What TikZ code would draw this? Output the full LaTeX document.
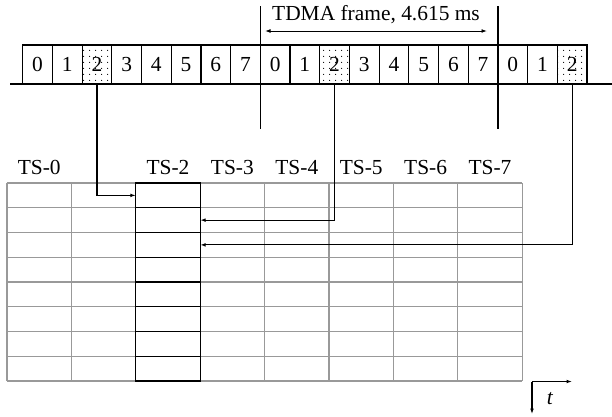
\documentclass[tikz,border=0pt]{standalone}
\usepackage{fontspec}
\setmainfont{Liberation Serif}
\usepackage{tikz}
\usetikzlibrary{arrows.meta}
\usetikzlibrary{patterns.meta}
\usetikzlibrary{math}
\tikzset{>={Latex[length=5.5bp,width=3.8bp]}}
\tikzset{
    slotbox/.style={draw=black, line width=1.2bp, minimum width=29.7bp, minimum height=39bp, inner sep=0pt, outer sep=0pt},
    dotslot/.style={slotbox, pattern={Dots[distance=6bp, radius=0.6bp]}},
    cellbox/.style={minimum width=64.4bp, minimum height=24.75bp, inner sep=0pt, outer sep=0pt},
    tsbox/.style={cellbox, draw=black, line width=1.3bp},
    gridline/.style={draw=gridgray, line width=1.3bp},
}

\begin{document}
\begin{tikzpicture}[x=1bp, y=-1bp, font=\fontsize{21.5}{25}\selectfont] % TDMA slots into TS columns
	\tikzmath{\w = 29.7; \xs = 22.7; \cw = 64.4; \rh = 24.75; \xg = 7; \yg = 183;}
	\colorlet{gridgray}{black!40}
	\useasboundingbox (0,0) rectangle (612,416);
	\draw[line width=1.2bp] (10,84) -- (612,84);
	\foreach \i in {0,...,18} {
		\pgfmathtruncatemacro{\d}{mod(\i,8)}
		\ifnum\d=2
			\node[dotslot] (s\i) at (\xs+\w*\i+\w/2, 64.5) {\d};
		\else
			\node[slotbox] (s\i) at (\xs+\w*\i+\w/2, 64.5) {\d};
		\fi
	}
	\coordinate (m1a) at ([yshift=39bp]s8.north west);
	\coordinate (m1b) at ([yshift=-45bp]s8.south west);
	\coordinate (m2a) at ([yshift=39bp]s16.north west);
	\coordinate (m2b) at ([yshift=-45bp]s16.south west);
	\draw[line width=1.3bp] (m1a) -- (m1b);
	\draw[line width=1.3bp] (m2a) -- (m2b);
	\node[anchor=base] (frame) at (376,20) {TDMA frame, 4.615 ms};
	\coordinate (fl) at (265,31);
	\coordinate (fr) at (487,31);
	\draw[<->, line width=0.9bp] (fl) -- (fr);
	\foreach \c in {0,...,7} \foreach \r in {0,...,7}
		\node[cellbox] (c\c-\r) at (\xg+\cw*\c+\cw/2, \yg+\rh*\r+\rh/2) {};
	\foreach \r in {0,...,7}
		\draw[gridline] (c0-\r.north west) -- (c7-\r.north east);
	\draw[gridline] (c0-7.south west) -- (c7-7.south east);
	\foreach \c in {0,...,7}
		\draw[gridline] (c\c-0.north west) -- (c\c-7.south west);
	\draw[gridline] (c7-0.north east) -- (c7-7.south east);
	\foreach \r in {0,...,7}
		\node[tsbox] (c2-\r) at (\xg+\cw*2+\cw/2, \yg+\rh*\r+\rh/2) {};
	\foreach \c in {0,2,3,4,5,6,7}
		\node[anchor=base] (ts\c) at (\xg+\cw*\c+\cw/2, 174) {TS-\c};
	\draw[->, line width=1.2bp] (s2.south) |- (c2-0.west);
	\draw[->, line width=1.2bp] (s10.south) |- (c2-1.east);
	\draw[->, line width=1.2bp] (s18.south) |- (c2-2.east);
	\coordinate (O) at (532,381.5);
	\coordinate (tx) at (572,381.5);
	\coordinate (ty) at (532,414);
	\draw[->, line width=1.2bp] (O) -- (tx);
	\draw[->, line width=1.2bp] (O) -- (ty);
	\node (tlabel) at (550,399) {\textit{t}};
\end{tikzpicture}
\end{document}
